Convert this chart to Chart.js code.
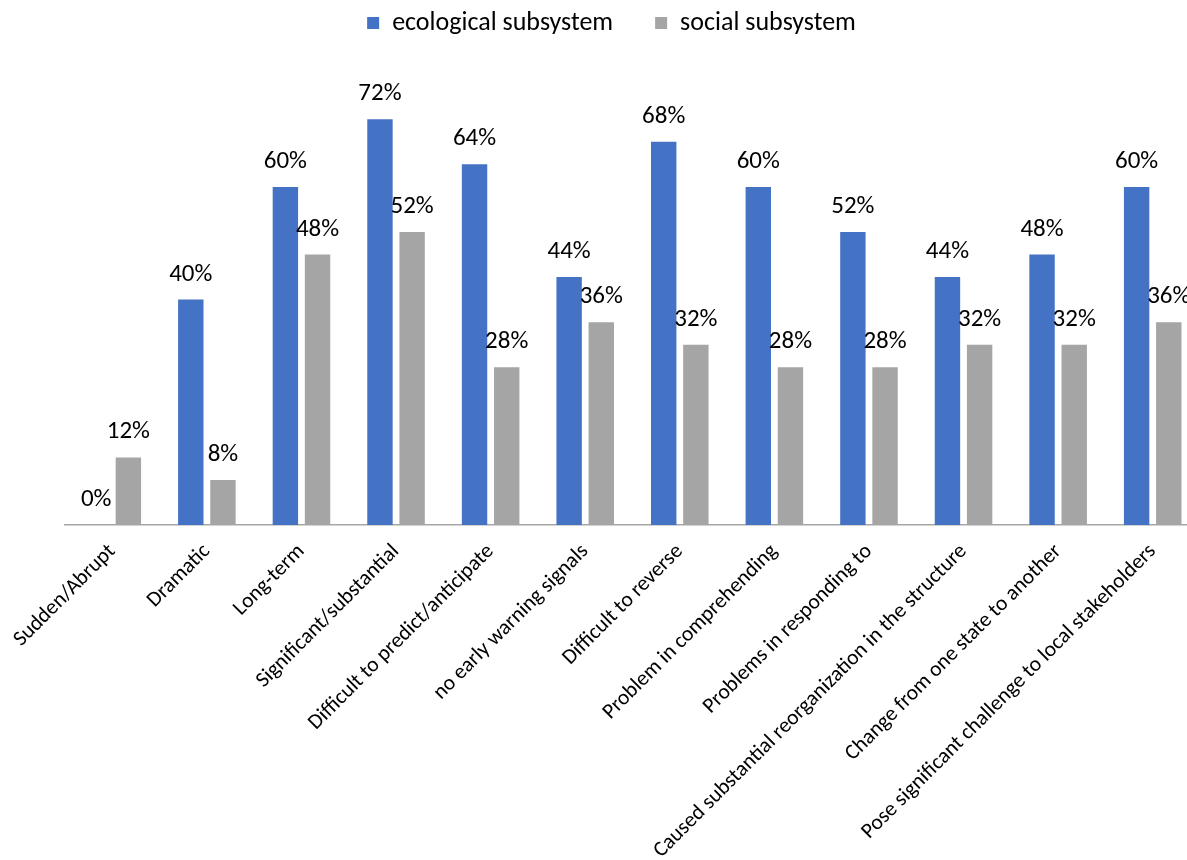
<!DOCTYPE html>
<html>
<head>
<meta charset="utf-8">
<script src="https://cdn.jsdelivr.net/npm/chart.js@4"></script>
<style>
  html, body { margin: 0; padding: 0; background: #fff; overflow: hidden; }
  #wrap { width: 1210px; height: 860px; position: relative; }
</style>
</head>
<body>
<div id="wrap"><canvas id="c"></canvas></div>
<script>
const categories = [
  "Sudden/Abrupt", "Dramatic", "Long-term", "Significant/substantial",
  "Difficult to predict/anticipate", "no early warning signals", "Difficult to reverse",
  "Problem in comprehending", "Problems in responding to",
  "Caused substantial reorganization in the structure",
  "Change from one state to another", "Pose significant challenge to local stakeholders"
];
const ecological = [0, 40, 60, 72, 64, 44, 68, 60, 52, 44, 48, 60];
const social = [12, 8, 48, 52, 28, 36, 32, 28, 28, 32, 32, 36];
const seriesNames = ["ecological subsystem", "social subsystem"];

const FONT = "Carlito, Lato, 'Liberation Sans', sans-serif";

const valueLabels = {
  id: 'valueLabels',
  afterLayout(chart) {
    if (chart.legend) {
      chart.legend.left -= 21;
      chart.legend.right -= 21;
    }
  },
  afterDatasetsDraw(chart) {
    const ctx = chart.ctx;
    ctx.save();
    ctx.font = "25px " + FONT;
    ctx.fillStyle = "#000";
    ctx.textAlign = "center";
    ctx.textBaseline = "alphabetic";
    chart.data.datasets.forEach((ds, i) => {
      const meta = chart.getDatasetMeta(i);
      meta.data.forEach((bar, j) => {
        ctx.fillText(ds.data[j] + "%", bar.x, bar.y - 19);
      });
    });
    ctx.restore();
  }
};

new Chart(document.getElementById('c'), {
  type: 'bar',
  data: {
    labels: categories,
    datasets: [
      { label: seriesNames[0], data: ecological, backgroundColor: '#4472C4', categoryPercentage: 0.68, barPercentage: 0.79 },
      { label: seriesNames[1], data: social, backgroundColor: '#A5A5A5', categoryPercentage: 0.68, barPercentage: 0.79 }
    ]
  },
  options: {
    responsive: true,
    maintainAspectRatio: false,
    animation: false,
    layout: { padding: { left: 65, right: 10, top: -32, bottom: 0 } },
    plugins: {
      legend: {
        position: 'top',
        labels: {
          boxWidth: 12, boxHeight: 12, padding: 42,
          color: '#000',
          font: { family: FONT, size: 26 }
        }
      },
      tooltip: { enabled: false }
    },
    scales: {
      x: {
        grid: { display: false, drawTicks: false },
        border: { display: true, color: '#A6A6A6', width: 1.5 },
        ticks: {
          maxRotation: 45, minRotation: 45, autoSkip: false,
          color: '#000', padding: 14,
          font: { family: FONT, size: 21.5 }
        },
        afterFit(scale) {
          scale.height = 335;
          scale.paddingLeft = 0;
          scale.paddingRight = 0;
        }
      },
      y: {
        display: false,
        min: 0, max: 85
      }
    }
  },
  plugins: [valueLabels]
});
</script>
</body>
</html>
